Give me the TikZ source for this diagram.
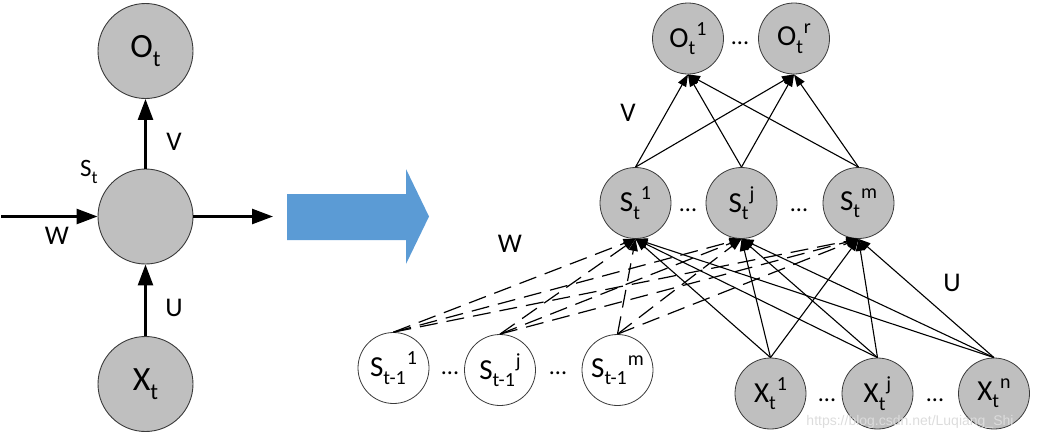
\documentclass[tikz,border=0pt]{standalone}
\usepackage{fontspec}
\setmainfont{Carlito}
\newfontfamily\wmfont{Liberation Sans}
\usetikzlibrary{arrows.meta}
\definecolor{nodefill}{HTML}{BFBFBF}
\definecolor{nodeline}{HTML}{3A3A3A}
\definecolor{bigarrow}{HTML}{5B9BD5}
\definecolor{wmark}{HTML}{DCDCDC}
\newcommand\subt[2]{\raisebox{-0.25em}{\fontsize{#1}{#1}\selectfont #2}}
\newcommand\supt[2]{\raisebox{0.42em}{\fontsize{#1}{#1}\selectfont #2}}
\tikzset{
  bigc/.style={circle, draw=nodeline, fill=nodefill, line width=0.9pt, minimum size=95pt, inner sep=0pt, font=\fontsize{34}{34}\selectfont},
  smc/.style={circle, draw=nodeline, fill=nodefill, line width=0.8pt, minimum size=71pt, inner sep=0pt, font=\fontsize{29}{29}\selectfont},
  prevc/.style={smc, fill=white},
  thickarr/.style={-{Triangle[length=21pt,width=15pt]}, line width=2.6pt},
  thinarr/.style={-{Triangle[length=12pt,width=9pt]}, line width=1.1pt},
  dasharr/.style={thinarr, line width=1.2pt, dash pattern=on 18pt off 9pt},
  lbl/.style={font=\fontsize{27}{27}\selectfont},
  dots/.style={font=\fontsize{24}{24}\selectfont},
}
\begin{document}
\begin{tikzpicture}[x=1pt,y=-1pt]
\useasboundingbox (0,0) rectangle (1037,440);
% ---------- left: folded RNN ----------
\node[bigc] (Ot) at (145.5,51) {O\subt{23}{t}};
\node[bigc] (St) at (145.5,216.5) {};
\node[bigc] (Xt) at (145.5,384) {X\subt{23}{t}};
\coordinate (win) at (1,216.5);
\coordinate (wout) at (273,216.5);
\draw[thickarr] (St.north) -- (Ot.south);
\draw[thickarr] (Xt.north) -- (St.south);
\draw[thickarr] (win) -- (St.west);
\draw[thickarr] (St.east) -- (wout);
\node[lbl] (lV) at (174,142) {V};
\node[lbl] (lU) at (174,308) {U};
\node[lbl] (lW) at (57,236) {W};
\node[font=\fontsize{25}{25}\selectfont] (lS) at (89,172) {S\subt{18}{t}};
% ---------- big blue arrow ----------
\fill[bigarrow] (287,194) -- (406,194) -- (406,169) -- (429,216.5) -- (406,264) -- (406,240) -- (287,240) -- cycle;
% ---------- right: unfolded ----------
\node[smc] (O1) at (688,38.5) {O\subt{20}{t}\kern1pt\supt{20}{1}};
\node[smc] (Or) at (794,38.5) {O\subt{20}{t}\kern1pt\supt{20}{r}};
\node[dots] (d1) at (740,43) {...};
\node[smc] (S1) at (635.5,203) {S\subt{20}{t}\kern1pt\supt{20}{1}};
\node[smc] (Sj) at (741.5,203) {S\subt{20}{t}\kern1pt\supt{20}{j}};
\node[smc] (Sm) at (858.5,203) {S\subt{20}{t}\kern1pt\supt{20}{m}};
\node[dots] (d2) at (688,210) {...};
\node[dots] (d3) at (799,210) {...};
\node[prevc] (P1) at (393.5,368) {S\subt{20}{t-1}\kern1pt\supt{20}{1}};
\node[prevc] (Pj) at (500,370) {S\subt{20}{t-1}\kern1pt\supt{20}{j}};
\node[prevc] (Pm) at (617.5,370) {S\subt{20}{t-1}\kern1pt\supt{20}{m}};
\node[dots] (d4) at (450,373) {...};
\node[dots] (d5) at (558,373) {...};
\node[smc] (X1) at (770.5,393.5) {X\subt{20}{t}\kern1pt\supt{20}{1}};
\node[smc] (Xj) at (877.5,393.5) {X\subt{20}{t}\kern1pt\supt{20}{j}};
\node[smc] (Xn) at (994,393.5) {X\subt{20}{t}\kern1pt\supt{20}{n}};
\node[dots] (d6) at (827,400) {...};
\node[dots] (d7) at (935,400) {...};
\foreach \s in {S1,Sj,Sm}{
  \foreach \o in {O1,Or}{\draw[thinarr] (\s.north) -- (\o.south);}
}
\foreach \x in {X1,Xj,Xn}{
  \foreach \s in {S1,Sj,Sm}{\draw[thinarr] (\x.north) -- (\s.south);}
}
\foreach \p in {P1,Pj,Pm}{
  \foreach \s in {S1,Sj,Sm}{\draw[dasharr] (\p.north) -- (\s.south);}
}
\node[lbl] (rV) at (628,113) {V};
\node[lbl] (rW) at (510,244) {W};
\node[lbl] (rU) at (952,283) {U};
\node[text=wmark, font=\wmfont\fontsize{14}{14}\selectfont] (wm) at (910,422) {https://blog.csdn.net/Luqiang\_Shi};
\end{tikzpicture}
\end{document}
